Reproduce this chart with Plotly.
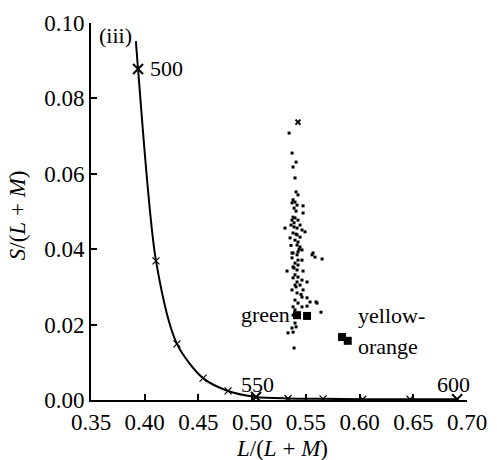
import plotly.graph_objects as go

# Spectral locus (wavelength nm -> L/(L+M), S/(L+M))
locus_nm = [500, 510, 520, 530, 540, 550, 560, 570, 580, 590, 600]
locus_l = [0.3938, 0.4105, 0.4300, 0.4543, 0.4776, 0.5036, 0.5334, 0.5660, 0.6030, 0.6470, 0.6908]
locus_s = [0.0878, 0.0369, 0.0149, 0.0058, 0.0024, 0.0008, 0.0004, 0.0003, 0.0002, 0.0002, 0.0002]
locus_start_l = 0.3918
locus_start_s = 0.0952

# Sample chromaticities (dots)
dots_l = [0.5344, 0.5372, 0.5409, 0.5381, 0.5399, 0.5409, 0.5427, 0.5381, 0.5399, 0.5371,
          0.5418, 0.5390, 0.5474, 0.5409, 0.5381, 0.5371, 0.5399, 0.5427, 0.5474, 0.5306,
          0.5362, 0.5390, 0.5418, 0.5446, 0.5464, 0.5492, 0.5381, 0.5418, 0.5446, 0.5353,
          0.5399, 0.5427, 0.5418, 0.5446, 0.5464, 0.5427, 0.5371, 0.5567, 0.5381, 0.5418,
          0.5371, 0.5427, 0.5464, 0.5399, 0.5427, 0.5381, 0.5558, 0.5585, 0.5651, 0.5325,
          0.5474, 0.5399, 0.5427, 0.5381, 0.5464, 0.5418, 0.5511, 0.5399, 0.5446, 0.5371,
          0.5474, 0.5418, 0.5464, 0.5511, 0.5399, 0.5539, 0.5427, 0.5604, 0.5381, 0.5464,
          0.5511, 0.5399, 0.5381, 0.5418, 0.5641, 0.5399, 0.5371, 0.5409, 0.5334, 0.5381,
          0.5390, 0.5595, 0.5390, 0.5409, 0.5437, 0.5390, 0.5418, 0.5455, 0.5362, 0.5409]
dots_s = [0.0708, 0.0655, 0.0631, 0.0618, 0.0589, 0.0552, 0.0544, 0.0531, 0.0525, 0.0523,
          0.0517, 0.0509, 0.0515, 0.0501, 0.0485, 0.0477, 0.0483, 0.0477, 0.0496, 0.0456,
          0.0464, 0.0459, 0.0456, 0.0464, 0.0451, 0.0446, 0.0443, 0.0438, 0.0432, 0.0430,
          0.0424, 0.0419, 0.0411, 0.0406, 0.0398, 0.0393, 0.0390, 0.0390, 0.0390, 0.0385,
          0.0377, 0.0371, 0.0371, 0.0363, 0.0358, 0.0353, 0.0385, 0.0379, 0.0374, 0.0342,
          0.0342, 0.0332, 0.0326, 0.0324, 0.0318, 0.0313, 0.0313, 0.0305, 0.0305, 0.0292,
          0.0292, 0.0284, 0.0273, 0.0271, 0.0265, 0.0260, 0.0257, 0.0257, 0.0247, 0.0247,
          0.0249, 0.0239, 0.0225, 0.0220, 0.0233, 0.0204, 0.0191, 0.0194, 0.0178, 0.0180,
          0.0138, 0.0260, 0.0470, 0.0440, 0.0400, 0.0350, 0.0345, 0.0280, 0.0410, 0.0300]
peak_l = [0.5427]
peak_s = [0.0737]

green_l = [0.5418, 0.5511]
green_s = [0.0225, 0.0223]
yo_l = [0.5837, 0.5890]
yo_s = [0.0167, 0.0157]

x_title = "<i>L</i>/(<i>L</i> + <i>M</i>)"
y_title = "<i>S</i>/(<i>L</i> + <i>M</i>)"

serif = "Liberation Serif"

fig = go.Figure()

fig.add_trace(go.Scatter(
    x=[locus_start_l] + locus_l, y=[locus_start_s] + locus_s,
    mode="lines", line=dict(color="black", width=2, shape="spline", smoothing=0.8),
    hoverinfo="skip"))

small_l = [l for n, l in zip(locus_nm, locus_l) if n % 50 != 0]
small_s = [s for n, s in zip(locus_nm, locus_s) if n % 50 != 0]
big_l = [l for n, l in zip(locus_nm, locus_l) if n % 50 == 0]
big_s = [s for n, s in zip(locus_nm, locus_s) if n % 50 == 0]

fig.add_trace(go.Scatter(x=small_l, y=small_s, mode="markers",
                         marker=dict(symbol="x-thin", size=7, line=dict(color="black", width=1.2))))
fig.add_trace(go.Scatter(x=big_l, y=big_s, mode="markers",
                         marker=dict(symbol="x-thin", size=10, line=dict(color="black", width=2))))

fig.add_trace(go.Scatter(x=dots_l, y=dots_s, mode="markers",
                         marker=dict(symbol="square", size=3, color="black")))
fig.add_trace(go.Scatter(x=peak_l, y=peak_s, mode="markers",
                         marker=dict(symbol="x-thin", size=5, line=dict(color="black", width=2))))

fig.add_trace(go.Scatter(x=green_l + yo_l, y=green_s + yo_s, mode="markers",
                         marker=dict(symbol="square", size=8, color="black")))

ann_font = dict(family=serif, size=22, color="black")
fig.add_annotation(x=0.4031, y=0.0878, text="500", showarrow=False, xanchor="left", yanchor="middle", font=ann_font)
fig.add_annotation(x=0.5046, y=0.0040, text="550", showarrow=False, xanchor="center", yanchor="middle", font=ann_font)
fig.add_annotation(x=0.6875, y=0.0040, text="600", showarrow=False, xanchor="center", yanchor="middle", font=ann_font)
fig.add_annotation(x=0.5370, y=0.0226, text="green", showarrow=False, xanchor="right", yanchor="middle", font=ann_font)
fig.add_annotation(x=0.5965, y=0.0223, text="yellow-", showarrow=False, xanchor="left", yanchor="middle", font=ann_font)
fig.add_annotation(x=0.5965, y=0.0143, text="orange", showarrow=False, xanchor="left", yanchor="middle", font=ann_font)
fig.add_annotation(x=0.3555, y=0.0968, text="(iii)", showarrow=False, xanchor="left", yanchor="middle", font=ann_font)

title_font = dict(family=serif, size=23, color="black")
fig.add_annotation(xref="paper", yref="paper", x=0.508, y=-0.128, text=x_title, showarrow=False,
                   xanchor="center", yanchor="middle", font=title_font)
fig.add_annotation(xref="paper", yref="paper", x=-0.197, y=0.49, text=y_title, showarrow=False,
                   textangle=-90, xanchor="center", yanchor="middle", font=title_font)

fig.update_layout(
    width=497, height=460,
    margin=dict(l=91, r=30, t=23, b=60),
    paper_bgcolor="white", plot_bgcolor="white",
    showlegend=False,
    font=dict(family=serif, size=23, color="black"),
    xaxis=dict(range=[0.35, 0.70], tickvals=[0.35, 0.40, 0.45, 0.50, 0.55, 0.60, 0.65, 0.70],
               ticktext=["0.35", "0.40", "0.45", "0.50", "0.55", "0.60", "0.65", "0.70"],
               showgrid=False, zeroline=False, showline=True, linecolor="black", linewidth=2,
               ticks="inside", ticklen=6, tickwidth=2, tickcolor="black", automargin=False,
               tickfont=dict(family=serif, size=23, color="black")),
    yaxis=dict(range=[0, 0.10], tickvals=[0, 0.02, 0.04, 0.06, 0.08, 0.10],
               ticktext=["0.00", "0.02", "0.04", "0.06", "0.08", "0.10"],
               showgrid=False, zeroline=False, showline=True, linecolor="black", linewidth=2,
               ticks="inside", ticklen=6, tickwidth=2, tickcolor="black", automargin=False,
               tickfont=dict(family=serif, size=23, color="black")),
)

fig.write_html("out.html")
